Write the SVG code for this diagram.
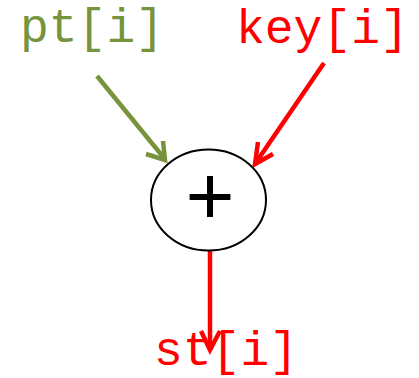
<svg xmlns="http://www.w3.org/2000/svg" width="419" height="378" viewBox="0 0 419 378">
  <style>
    .lbl { font-family: "Liberation Mono", "Courier New", monospace; font-size: 48px; }
    .green { fill: #77933C; }
    .red { fill: #FF0000; }
    .edge { fill: none; stroke-width: 4.5; stroke-linecap: butt; stroke-linejoin: miter; }
    .head { fill: none; stroke-width: 4.5; stroke-linecap: butt; stroke-linejoin: miter; }
  </style>
  <rect width="419" height="378" fill="#FFFFFF"/>

  <g id="connectors">
    <!-- pt[i] into adder -->
    <line class="edge" x1="97" y1="76" x2="164" y2="158" stroke="#77933C"/>
    <polyline class="head" points="146,154 165,160 163,141" stroke="#77933C"/>
    <!-- key[i] into adder -->
    <line class="edge" x1="324" y1="63" x2="257" y2="161" stroke="#FF0000"/>
    <polyline class="head" points="258,142 255,164 273,154" stroke="#FF0000"/>
    <!-- adder out to st[i] -->
    <line class="edge" x1="210" y1="251" x2="210" y2="348" stroke="#FF0000"/>
    <polyline class="head" points="201,331 210,350 220,331" stroke="#FF0000"/>
  </g>

  <g id="pt">
    <text class="lbl green" x="20" y="42">pt[i]</text>
  </g>
  <g id="key">
    <text class="lbl red" x="236" y="43">key[i]</text>
  </g>
  <g id="adder">
    <ellipse cx="208.5" cy="200" rx="57.5" ry="50.5" fill="#FFFFFF" stroke="#000000" stroke-width="2"/>
    <text x="210" y="224" text-anchor="middle" font-family="Liberation Sans, Arial, sans-serif" font-size="84" fill="#000000">+</text>
  </g>
  <g id="st">
    <text class="lbl red" x="154" y="365">st[i]</text>
  </g>
</svg>
